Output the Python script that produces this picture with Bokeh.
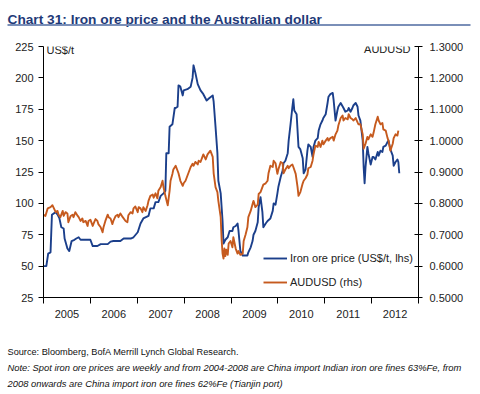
from bokeh.plotting import figure
from bokeh.models import (Range1d, LinearAxis, FixedTicker, Legend, LegendItem,
                          Label, PrintfTickFormatter)
from bokeh.layouts import column
from bokeh.embed import file_html
from bokeh.resources import INLINE
from bokeh.core.properties import value

# ---------------- data ----------------
ore_years = [2005.00, 2005.06, 2005.10, 2005.15, 2005.18, 2005.26, 2005.30, 2005.34, 2005.38, 2005.43,
             2005.45, 2005.51, 2005.55, 2005.60, 2005.66, 2005.70, 2005.75, 2005.79, 2006.00, 2006.05,
             2006.15, 2006.22, 2006.37, 2006.43, 2006.49, 2006.64, 2006.71, 2006.86, 2006.92, 2007.01,
             2007.07, 2007.13, 2007.24, 2007.28, 2007.35, 2007.39, 2007.45, 2007.50, 2007.56, 2007.60,
             2007.62, 2007.67, 2007.69, 2007.75, 2007.80, 2007.82, 2007.86, 2007.88, 2007.92, 2007.97,
             2007.99, 2008.07, 2008.14, 2008.18, 2008.20, 2008.24, 2008.29, 2008.35, 2008.41, 2008.48,
             2008.54, 2008.61, 2008.63, 2008.67, 2008.71, 2008.73, 2008.78, 2008.82, 2008.84, 2008.88,
             2008.93, 2008.97, 2009.03, 2009.05, 2009.10, 2009.14, 2009.16, 2009.20, 2009.25, 2009.35,
             2009.37, 2009.42, 2009.46, 2009.48, 2009.52, 2009.57, 2009.59, 2009.63, 2009.67, 2009.69,
             2009.74, 2009.78, 2009.84, 2009.89, 2009.91, 2009.95, 2009.99, 2010.01, 2010.06, 2010.10,
             2010.12, 2010.16, 2010.21, 2010.23, 2010.27, 2010.31, 2010.33, 2010.35, 2010.40, 2010.42,
             2010.44, 2010.48, 2010.53, 2010.55, 2010.59, 2010.63, 2010.65, 2010.70, 2010.74, 2010.76,
             2010.80, 2010.85, 2010.87, 2010.91, 2010.95, 2010.97, 2011.02, 2011.06, 2011.08, 2011.12,
             2011.17, 2011.19, 2011.23, 2011.27, 2011.29, 2011.34, 2011.40, 2011.44, 2011.49, 2011.51,
             2011.55, 2011.59, 2011.61, 2011.66, 2011.70, 2011.72, 2011.76, 2011.81, 2011.83, 2011.85,
             2011.87, 2011.91, 2011.93, 2011.98, 2012.02, 2012.04, 2012.08, 2012.13, 2012.15, 2012.19,
             2012.23, 2012.25, 2012.30, 2012.34, 2012.36, 2012.40, 2012.45, 2012.47, 2012.51, 2012.55,
             2012.57, 2012.59]
ore_price = [50, 50, 60, 61, 91, 93, 91, 88, 81, 80,
             72, 64, 62, 70, 71, 72, 73, 71, 71, 66,
             66, 67.5, 67.5, 69.5, 70, 70, 72, 72, 73, 77,
             84, 88, 90, 96, 96, 101, 101, 106, 108, 110,
             140, 140, 161, 163, 176, 176, 177, 194, 193, 186,
             190, 191, 193, 200, 210, 204, 195, 190, 187, 182,
             184, 186, 181, 161, 140, 118, 108, 86, 68, 71,
             73, 78, 78, 81, 82, 84, 78, 62, 58.5, 58.5,
             61, 65, 70, 75, 78, 85, 97, 105, 93, 81,
             84, 86, 88, 94, 100, 99, 108, 113, 121, 126,
             132, 134, 140, 150, 163, 177, 183, 174, 171, 158,
             145, 143, 136, 124, 127, 142, 147, 145, 137, 145,
             150, 152, 158, 163, 166, 168, 171, 180, 185, 187,
             188, 182, 166, 174, 177, 180, 176, 173, 174, 176,
             173, 176, 178, 180, 177, 170, 166, 150, 129, 116,
             129, 145, 140, 131, 137, 137, 135, 141, 138, 142,
             141, 145, 146, 149, 150, 143, 138, 130, 133, 135,
             133, 124]

aud_years = [2005.00, 2005.04, 2005.09, 2005.15, 2005.19, 2005.21, 2005.26, 2005.30, 2005.32, 2005.36,
             2005.41, 2005.43, 2005.47, 2005.51, 2005.53, 2005.58, 2005.62, 2005.64, 2005.68, 2005.73,
             2005.75, 2005.79, 2005.83, 2005.85, 2005.90, 2005.94, 2005.96, 2006.00, 2006.05, 2006.07,
             2006.11, 2006.15, 2006.17, 2006.22, 2006.26, 2006.28, 2006.32, 2006.37, 2006.39, 2006.43,
             2006.47, 2006.49, 2006.54, 2006.58, 2006.60, 2006.64, 2006.69, 2006.75, 2006.79, 2006.81,
             2006.86, 2006.90, 2006.92, 2006.96, 2007.01, 2007.03, 2007.07, 2007.11, 2007.13, 2007.18,
             2007.22, 2007.24, 2007.28, 2007.33, 2007.35, 2007.39, 2007.43, 2007.45, 2007.50, 2007.54,
             2007.56, 2007.60, 2007.65, 2007.67, 2007.69, 2007.71, 2007.75, 2007.77, 2007.82, 2007.86,
             2007.88, 2007.92, 2007.97, 2007.99, 2008.03, 2008.07, 2008.09, 2008.14, 2008.18, 2008.20,
             2008.24, 2008.29, 2008.31, 2008.35, 2008.39, 2008.41, 2008.46, 2008.50, 2008.52, 2008.56,
             2008.61, 2008.63, 2008.67, 2008.71, 2008.73, 2008.78, 2008.80, 2008.82, 2008.84, 2008.86,
             2008.88, 2008.90, 2008.93, 2008.95, 2008.99, 2009.03, 2009.05, 2009.10, 2009.14, 2009.16,
             2009.20, 2009.25, 2009.27, 2009.31, 2009.35, 2009.37, 2009.42, 2009.46, 2009.48, 2009.52,
             2009.57, 2009.59, 2009.63, 2009.67, 2009.69, 2009.74, 2009.78, 2009.80, 2009.84, 2009.89,
             2009.91, 2009.95, 2009.99, 2010.01, 2010.06, 2010.10, 2010.12, 2010.16, 2010.21, 2010.23,
             2010.27, 2010.31, 2010.33, 2010.38, 2010.42, 2010.44, 2010.48, 2010.53, 2010.55, 2010.59,
             2010.63, 2010.65, 2010.70, 2010.74, 2010.76, 2010.80, 2010.85, 2010.87, 2010.91, 2010.95,
             2010.97, 2011.02, 2011.06, 2011.08, 2011.12, 2011.17, 2011.19, 2011.23, 2011.27, 2011.29,
             2011.34, 2011.38, 2011.40, 2011.44, 2011.49, 2011.51, 2011.55, 2011.59, 2011.61, 2011.66,
             2011.70, 2011.72, 2011.76, 2011.81, 2011.83, 2011.87, 2011.91, 2011.93, 2011.98, 2012.02,
             2012.04, 2012.08, 2012.13, 2012.15, 2012.19, 2012.23, 2012.25, 2012.30, 2012.34, 2012.36,
             2012.40, 2012.45, 2012.47, 2012.51, 2012.55, 2012.57]
aud_rate = [0.764, 0.760, 0.784, 0.788, 0.794, 0.788, 0.772, 0.776, 0.764, 0.756,
            0.776, 0.760, 0.772, 0.768, 0.740, 0.760, 0.764, 0.756, 0.772, 0.760,
            0.756, 0.744, 0.752, 0.740, 0.744, 0.728, 0.744, 0.748, 0.728, 0.736,
            0.750, 0.744, 0.734, 0.724, 0.708, 0.724, 0.744, 0.764, 0.756, 0.752,
            0.734, 0.744, 0.760, 0.764, 0.756, 0.768, 0.756, 0.744, 0.740, 0.762,
            0.772, 0.768, 0.784, 0.790, 0.772, 0.788, 0.784, 0.772, 0.788, 0.776,
            0.794, 0.808, 0.824, 0.828, 0.818, 0.832, 0.816, 0.840, 0.852, 0.872,
            0.852, 0.824, 0.794, 0.816, 0.840, 0.872, 0.894, 0.908, 0.920, 0.904,
            0.896, 0.872, 0.856, 0.864, 0.872, 0.888, 0.896, 0.916, 0.926, 0.920,
            0.932, 0.924, 0.936, 0.932, 0.948, 0.956, 0.940, 0.956, 0.960, 0.968,
            0.948, 0.896, 0.852, 0.836, 0.808, 0.756, 0.684, 0.640, 0.624, 0.656,
            0.632, 0.652, 0.636, 0.672, 0.680, 0.660, 0.692, 0.656, 0.640, 0.648,
            0.636, 0.640, 0.680, 0.700, 0.724, 0.756, 0.776, 0.798, 0.808, 0.788,
            0.796, 0.830, 0.836, 0.852, 0.860, 0.864, 0.872, 0.896, 0.920, 0.916,
            0.936, 0.928, 0.894, 0.908, 0.932, 0.928, 0.896, 0.908, 0.920, 0.912,
            0.920, 0.924, 0.916, 0.894, 0.852, 0.824, 0.836, 0.864, 0.872, 0.880,
            0.892, 0.912, 0.916, 0.936, 0.956, 0.984, 0.980, 0.996, 0.980, 1.000,
            0.988, 1.000, 1.008, 1.000, 1.008, 1.012, 1.000, 1.020, 1.032, 1.048,
            1.072, 1.080, 1.064, 1.072, 1.068, 1.084, 1.072, 1.068, 1.064, 1.072,
            1.058, 1.052, 1.052, 1.020, 0.974, 0.990, 1.012, 1.004, 1.020, 1.012,
            1.024, 1.052, 1.076, 1.064, 1.052, 1.056, 1.036, 1.032, 1.008, 1.000,
            0.968, 0.990, 1.008, 1.020, 1.016, 1.032]

year_labels = ["2005", "2006", "2007", "2008", "2009", "2010", "2011", "2012"]
left_ticks = [25, 50, 75, 100, 125, 150, 175, 200, 225]
right_ticks = [0.5, 0.6, 0.7, 0.8, 0.9, 1.0, 1.1, 1.2, 1.3]

title_text = "Chart 31: Iron ore price and the Australian dollar"
source_text = "Source: Bloomberg, BofA Merrill Lynch Global Research."
note_lines = ["Note: Spot iron ore prices are weekly and from 2004-2008 are China import Indian iron ore fines 63%Fe, from",
              "2008 onwards are China import iron ore fines 62%Fe (Tianjin port)"]

# ---------------- styles ----------------
BLUE = "#1B3F8B"
ORANGE = "#C65A1E"
TITLE_BLUE = "#1F3A78"
FONT = "Liberation Sans"
W = 480

# ---------------- header ----------------
head = figure(width=W, height=28, x_range=Range1d(0, W), y_range=Range1d(28, 0),
              output_backend="svg", toolbar_location=None, frame_align=False,
              min_border=0, outline_line_color=None)
head.axis.visible = False
head.grid.visible = False
head.text(x=[7], y=[19.3], text=[title_text], text_font=value(FONT),
          text_font_style="bold", text_font_size="13.7px", text_color=TITLE_BLUE,
          text_baseline="alphabetic", text_align="left")
head.segment(x0=[7], y0=[24.5], x1=[470], y1=[24.5], line_color="#7A8FB8", line_width=2)

# ---------------- main chart ----------------
p = figure(width=W, height=296, x_range=Range1d(2005, 2013), y_range=Range1d(25, 225),
           output_backend="svg", toolbar_location=None, frame_align=False,
           min_border_left=43, min_border_right=62, min_border_top=18, min_border_bottom=27,
           outline_line_color=None)
p.grid.visible = False
p.extra_y_ranges = {"aud": Range1d(0.5, 1.3)}

# x axis: labels mid-year, ticks at year boundaries
xa = p.xaxis[0]
mids = [int(y) + 0.5 for y in year_labels]
xa.ticker = FixedTicker(ticks=mids, minor_ticks=[int(y) for y in year_labels] + [int(year_labels[-1]) + 1])
xa.major_label_overrides = {m: lab for m, lab in zip(mids, year_labels)}
xa.major_tick_out = 0
xa.major_tick_in = 0
xa.minor_tick_out = 6
xa.minor_tick_in = 0
xa.major_label_standoff = 6
xa.axis_line_color = "black"
xa.minor_tick_line_color = "black"
xa.major_label_text_font = FONT
xa.major_label_text_font_size = "11px"
xa.major_label_text_color = "#222222"

ya = p.yaxis[0]
ya.ticker = FixedTicker(ticks=left_ticks)
ya.minor_tick_line_color = None
ya.major_tick_out = 5
ya.major_tick_in = 0
ya.axis_line_color = "black"
ya.major_tick_line_color = "black"
ya.major_label_text_font = FONT
ya.major_label_text_font_size = "11px"
ya.major_label_text_color = "#222222"
ya.major_label_standoff = 5

ra = LinearAxis(y_range_name="aud", ticker=FixedTicker(ticks=right_ticks),
                formatter=PrintfTickFormatter(format="%.4f"))
ra.minor_tick_line_color = None
ra.major_tick_out = 4
ra.major_tick_in = 4
ra.axis_line_color = "black"
ra.major_tick_line_color = "black"
ra.major_label_text_font = FONT
ra.major_label_text_font_size = "11px"
ra.major_label_text_color = "#222222"
ra.major_label_standoff = 7
p.add_layout(ra, "right")

r_ore = p.line(ore_years, ore_price, line_color=BLUE, line_width=1.9, line_join="round")
r_aud = p.line(aud_years, aud_rate, line_color=ORANGE, line_width=1.9, line_join="round",
               y_range_name="aud")

p.add_layout(Label(x=2005, y=225, x_offset=3, y_offset=-3, text="US$/t", text_font=FONT,
                   text_font_size="11px", text_color="#222222", text_baseline="middle"))
p.add_layout(Label(x=2013, y=1.3, y_range_name="aud", x_offset=-8, y_offset=-2, text="AUDUSD",
                   text_font=FONT, text_font_size="11px", text_color="#222222",
                   text_baseline="middle", text_align="right"))

legend = Legend(items=[LegendItem(label="Iron ore price (US$/t, lhs)", renderers=[r_ore]),
                       LegendItem(label="AUDUSD (rhs)", renderers=[r_aud])],
                location=(220, 5), padding=0, margin=0, spacing=4,
                glyph_width=24, glyph_height=20, label_height=20, label_standoff=3,
                border_line_color=None, background_fill_alpha=0,
                label_text_font=FONT, label_text_font_size="11px", label_text_color="#222222")
p.add_layout(legend)

# ---------------- footer ----------------
foot = figure(width=W, height=70, x_range=Range1d(0, W), y_range=Range1d(70, 0),
              output_backend="svg", toolbar_location=None, frame_align=False,
              min_border=0, outline_line_color=None)
foot.axis.visible = False
foot.grid.visible = False
foot.text(x=[7], y=[27.7], text=[source_text], text_font=value(FONT),
          text_font_size="9.2px", text_color="#111111", text_baseline="middle")
foot.text(x=[7, 7], y=[43, 58.7], text=note_lines, text_font=value(FONT),
          text_font_size="9.4px", text_font_style="italic", text_color="#111111",
          text_baseline="middle")

layout = column(head, p, foot, spacing=0)
open("out.html", "w").write(file_html(layout, INLINE))
